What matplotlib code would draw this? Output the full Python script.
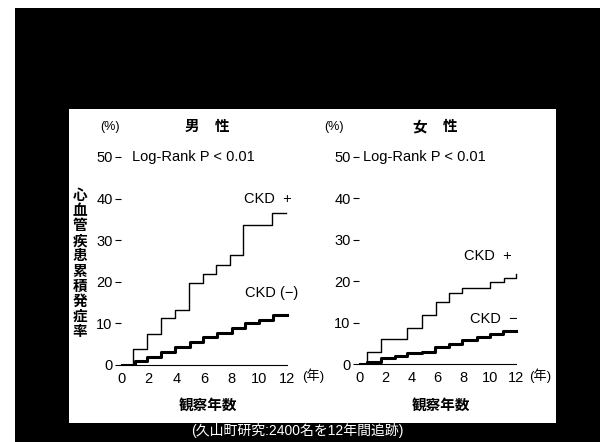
import matplotlib
matplotlib.use("Agg")
import matplotlib.pyplot as plt
from matplotlib.patches import Rectangle

plt.rcParams['font.family'] = ['Liberation Sans', 'Noto Sans CJK JP', 'DejaVu Sans']

# ---- data ----
years_ticks = [0, 2, 4, 6, 8, 10, 12]
y_ticks = [0, 10, 20, 30, 40, 50]

men_pos_t = [0, 0.9, 1.9, 2.9, 3.9, 4.9, 5.9, 6.9, 7.9, 8.8, 10.9, 11.9]
men_pos = [0, 3.8, 7.4, 11.2, 13.3, 19.8, 21.8, 24.0, 26.4, 33.6, 36.5, 36.5]
men_neg_t = [0, 1.0, 1.9, 2.9, 3.9, 5.0, 5.9, 6.95, 8.0, 8.95, 10.0, 11.0, 12.0]
men_neg = [0, 1.0, 2.0, 3.2, 4.4, 5.5, 6.7, 7.8, 8.8, 10.0, 10.9, 12.1, 12.0]

wom_pos_t = [0, 0.6, 1.7, 3.7, 4.8, 5.9, 6.9, 7.9, 10.0, 11.1, 12.0]
wom_pos = [0, 2.9, 6.0, 8.6, 11.9, 15.0, 17.2, 18.4, 19.8, 20.8, 21.7]
wom_neg_t = [0, 0.6, 1.7, 2.75, 3.7, 4.8, 5.8, 6.9, 7.9, 9.0, 10.0, 11.0, 12.0]
wom_neg = [0, 0.5, 1.4, 1.9, 2.6, 2.9, 4.1, 4.9, 5.7, 6.5, 7.3, 7.9, 7.9]

W, H = 600, 442
fig = plt.figure(figsize=(W / 100, H / 100), dpi=100, facecolor='white')

def px_rect(x0, y0, x1, y1, color, z):
    fig.patches.append(Rectangle((x0 / W, 1 - y1 / H), (x1 - x0) / W, (y1 - y0) / H,
                                 transform=fig.transFigure, facecolor=color,
                                 edgecolor='none', zorder=z))

px_rect(15, 8, 600, 442, 'black', -20)
px_rect(69, 109, 556, 423, 'white', -10)

def make_axes(x0px, pxunit, y0px, pyunit):
    xmax, ymax = 12.6, 50.5
    left = x0px / W
    bottom = 1 - y0px / H
    ax = fig.add_axes([left, bottom, xmax * pxunit / W, ymax * pyunit / H])
    ax.set_zorder(5)
    ax.set_xlim(0, xmax)
    ax.set_ylim(0, ymax)
    ax.patch.set_alpha(0)
    for s in ['top', 'right', 'left']:
        ax.spines[s].set_visible(False)
    ax.spines['bottom'].set_bounds(0, 12)
    ax.spines['bottom'].set_linewidth(0.8)
    ax.set_xticks(years_ticks)
    ax.set_xticklabels([str(v) for v in years_ticks])
    ax.set_yticks(y_ticks)
    ax.set_yticklabels([str(v) for v in y_ticks])
    ax.tick_params(axis='x', length=0, pad=5, labelsize=10.5)
    ax.tick_params(axis='y', length=4, width=0.8, pad=2, labelsize=10.5)
    return ax

# Men
ax1 = make_axes(121, 13.83, 365, 4.16)
ax1.plot(men_pos_t, men_pos, drawstyle='steps-post', color='black', lw=1.0)
ax1.plot(men_neg_t, men_neg, drawstyle='steps-post', color='black', lw=2.2)
ax1.text(0.8, 50, 'Log-Rank P < 0.01', fontsize=10.5, va='center', ha='left')
ax1.text(8.9, 40, 'CKD  +', fontsize=10.5, va='center', ha='left')
ax1.text(9.0, 17.2, 'CKD (−)', fontsize=10.5, va='center', ha='left')

# Women
ax2 = make_axes(359, 13.08, 364, 4.14)
ax2.plot(wom_pos_t, wom_pos, drawstyle='steps-post', color='black', lw=1.0)
ax2.plot(wom_neg_t, wom_neg, drawstyle='steps-post', color='black', lw=2.2)
ax2.text(0.3, 50, 'Log-Rank P < 0.01', fontsize=10.5, va='center', ha='left')
ax2.text(8.0, 26.0, 'CKD  +', fontsize=10.5, va='center', ha='left')
ax2.text(8.5, 10.8, 'CKD  −', fontsize=10.5, va='center', ha='left')

def ftext(x, y, s, **kw):
    fig.text(x / W, 1 - y / H, s, **kw)

# Titles and units
ftext(110, 127, '(%)', fontsize=9, ha='center', va='center')
ftext(192, 127, '男', fontsize=10.5, ha='center', va='center', fontweight='bold')
ftext(222, 127, '性', fontsize=10.5, ha='center', va='center', fontweight='bold')
ftext(334, 127, '(%)', fontsize=9, ha='center', va='center')
ftext(420, 127, '女', fontsize=10.5, ha='center', va='center', fontweight='bold')
ftext(450, 127, '性', fontsize=10.5, ha='center', va='center', fontweight='bold')

# y label vertical stacked
ftext(80, 264, '\n'.join('心血管疾患累積発症率'), fontsize=10.5, ha='center', va='center',
      fontweight='bold', linespacing=1.1)

# x labels and units
ftext(208, 406, '観察年数', fontsize=10.5, ha='center', va='center', fontweight='bold')
ftext(441, 406, '観察年数', fontsize=10.5, ha='center', va='center', fontweight='bold')
ftext(313, 376, '(年)', fontsize=9.5, ha='center', va='center')
ftext(540, 376, '(年)', fontsize=9.5, ha='center', va='center')

# caption
ftext(297, 431, '(久山町研究:2400名を12年間追跡)', fontsize=10, ha='center', va='center',
      color='white')

fig.savefig('out.png', dpi=100, facecolor=fig.get_facecolor())
